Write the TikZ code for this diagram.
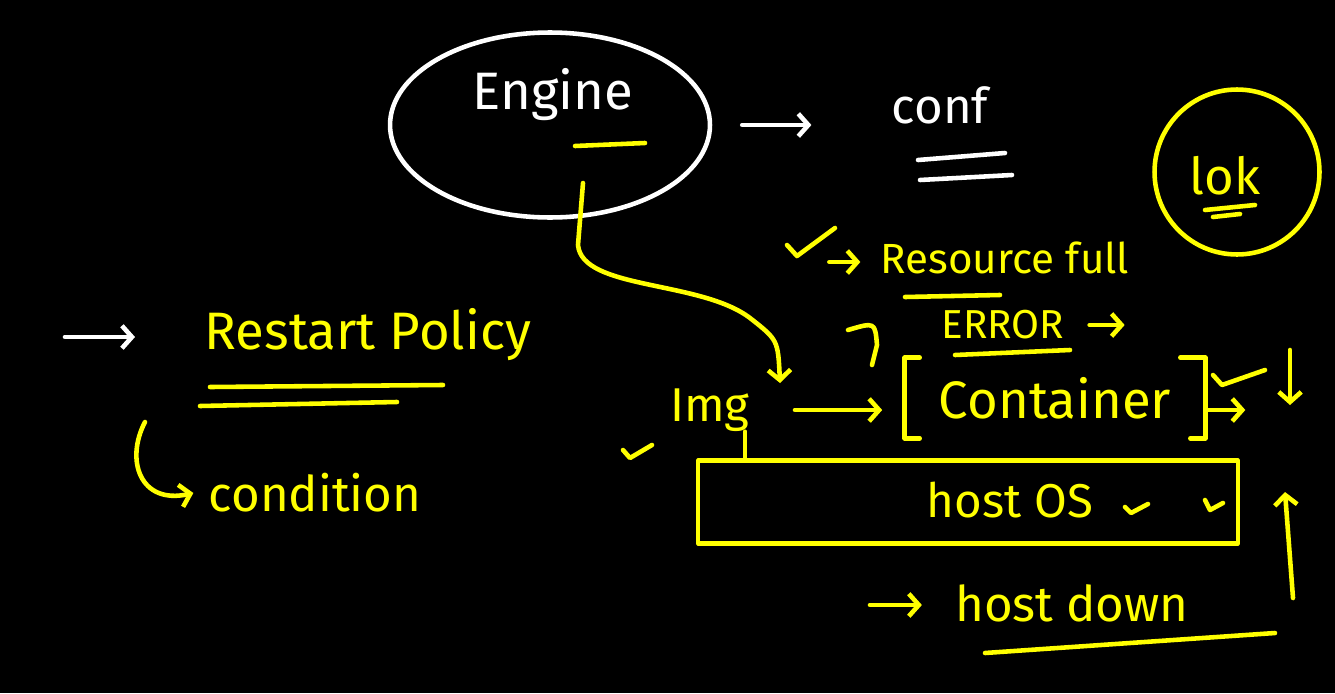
\documentclass[tikz,border=0pt]{standalone}
\usepackage{fontspec}
\setmainfont{Fira Sans}
\usepackage{xcolor}
\definecolor{Board}{HTML}{000000}
\definecolor{Chalk}{HTML}{FFFFFF}
\definecolor{Marker}{HTML}{FFFF00}
\usepackage{tikz}
\usetikzlibrary{arrows.meta,shapes.geometric}
\newcommand\handsize[1]{\fontsize{#1}{#1}\selectfont}

\begin{document}
\begin{tikzpicture}[x=0.02cm,y=-0.02cm,
  pen/.style={line width=2.6pt,line cap=round,line join=round},
  chalk/.style={pen,draw=Chalk},
  marker/.style={pen,draw=Marker},
  arr/.style={-{Straight Barb[length=2mm,width=4.5mm]}},
  txt/.style={inner sep=0pt}]
  \fill[Board] (0,0) rectangle (1335,693);
  \useasboundingbox (0,0) rectangle (1335,693);

  % Engine bubble
  \node[chalk,ellipse,minimum width=6.4cm,minimum height=3.7cm] (engine) at (550,125) {};
  \node[txt,text=Chalk,font=\handsize{30}] (enginetxt) at (553,95) {Engine};
  \draw[marker] (575,146) -- (645,143);

  % conf
  \node[txt,text=Chalk,font=\handsize{28}] (conf) at (940,105) {conf};
  \draw[chalk,arr,shorten <=0.6cm,shorten >=1.6cm] (engine.east) -- (engine.east -| conf.west);
  \draw[chalk] (918,160) -- (1005,153);
  \draw[chalk] (920,180) -- (1012,175);

  % lok
  \node[marker,circle,minimum size=3.3cm] (lokring) at (1237,172) {};
  \node[txt,text=Marker,font=\handsize{29}] (lok) at (1225,176) {lok};
  \draw[marker] (1205,210) -- (1255,205);
  \draw[marker] (1213,217) -- (1240,214);

  % Resource full
  \node[txt,text=Marker,font=\handsize{24}] (resource) at (1005,258) {Resource full};
  \draw[marker] (787,245) -- (797,256) -- (835,228);
  \draw[marker,arr,shorten <=1cm,shorten >=0.4cm] (resource.west) ++(-1,4) -- (resource.west |- 0,262);
  \draw[marker] (905,297) -- (1000,295);

  % ERROR
  \node[txt,text=Marker,font=\handsize{23}] (error) at (1003,325) {ERROR};
  \draw[marker] (848,330) .. controls (875,322) .. (877,345) -- (872,365);
  \draw[marker] (955,355) -- (1070,350);
  \draw[marker,arr,shorten <=0.5cm] (error.east) -- ++(60,0);

  % Engine pulls the image
  \coordinate (tap) at (583,183);
  \coordinate (pull) at (780,383);
  \draw[marker,arr] (tap) -- (578,245) .. controls (582,290) and (700,280) .. (750,318)
    .. controls (778,340) .. (pull);

  % Img -> Container
  \node[txt,text=Marker,font=\handsize{27}] (img) at (710,410) {Img};
  \draw[marker] (623,450) -- (630,458) -- (652,445);
  \node[txt,text=Marker,font=\handsize{30},minimum width=6cm,minimum height=1.6cm] (container) at (1055,398) {Container};
  \draw[marker] (container.north west) ++(15,0) -- (container.north west) -- (container.south west) -- ++(15,0);
  \draw[marker] (container.north east) ++(-25,0) -- (container.north east) -- (container.south east) -- ++(-15,0);
  \draw[marker,arr,shorten <=0.9cm,shorten >=0.45cm] (img.east) -- (img.east -| container.west);
  \draw[marker] (1213,375) -- (1222,385) -- (1265,370);
  \draw[marker,arr] (container.east) ++(0,12) -- ++(40,0);
  \draw[marker,arr] (1290,350) -- (1290,405);

  % host OS
  \node[marker,minimum width=10.8cm,minimum height=1.65cm] (hostbox) at (968,502) {};
  \node[txt,text=Marker,font=\handsize{27}] (hostos) at (1010,500) {host OS};
  \draw[marker] ([xshift=-0.1cm]img.south east) -- ([xshift=-0.1cm]img.south east |- hostbox.north);
  \draw[marker] (1125,507) -- (1131,513) -- (1148,504);
  \draw[marker] (1205,500) -- (1210,510) -- (1223,503);

  % host down
  \node[txt,text=Marker,font=\handsize{28}] (hostdown) at (1072,603) {host down};
  \draw[marker,arr,shorten >=0.66cm] (870,605) -- (hostdown.west |- 0,605);
  \draw[marker] (985,653) -- (1275,633);
  \draw[marker,arr] (1293,598) -- (1285,492);

  % Restart Policy
  \node[txt,text=Marker,font=\handsize{30}] (restart) at (368,335) {Restart Policy};
  \draw[chalk,arr] (65,337) -- (135,337);
  \draw[marker] (210,387) -- (443,385);
  \draw[marker] (200,406) -- (397,402);

  % condition
  \node[txt,text=Marker,font=\handsize{28}] (condition) at (315,493) {condition};
  \coordinate (hook) at (145,422);
  \draw[marker,arr] (hook) .. controls (125,460) and (140,505) .. ([xshift=-0.3cm]condition.west);
\end{tikzpicture}
\end{document}
